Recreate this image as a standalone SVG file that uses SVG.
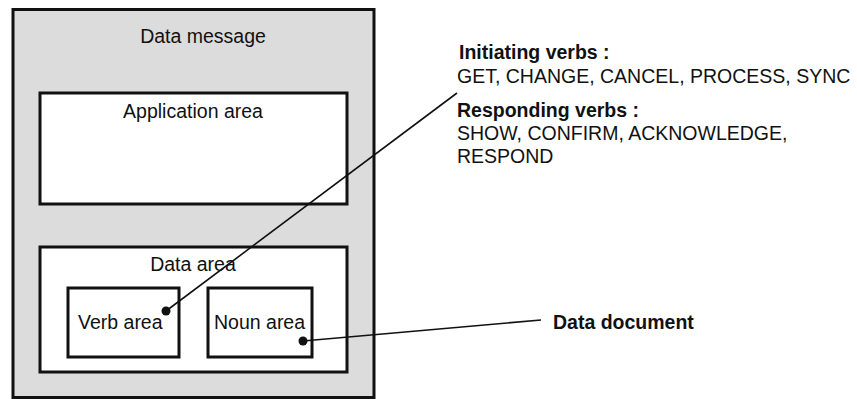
<svg xmlns="http://www.w3.org/2000/svg" width="857" height="399" viewBox="0 0 857 399">
<style>
text{font-family:"Liberation Sans",Arial,sans-serif;font-size:19.5px;fill:#111}
.b{font-weight:bold}
.box{fill:#fff;stroke:#111;stroke-width:3}
.ln{stroke:#111;stroke-width:1.6;fill:none}
</style>
<rect width="857" height="399" fill="#fff"/>
<g id="data-message">
<rect x="13" y="9.5" width="361" height="388" fill="#dcdcdc" stroke="#111" stroke-width="3"/>
<text x="203" y="43" text-anchor="middle">Data message</text>
</g>
<g id="application-area">
<rect class="box" x="40" y="93" width="307" height="111"/>
<text x="193" y="118" text-anchor="middle">Application area</text>
</g>
<g id="data-area">
<rect class="box" x="40" y="247" width="307" height="125"/>
<text x="193" y="271" text-anchor="middle">Data area</text>
</g>
<g id="verb-area">
<rect class="box" x="68" y="288" width="111" height="69"/>
<text x="78" y="329">Verb area</text>
</g>
<g id="noun-area">
<rect class="box" x="208" y="288" width="104" height="69"/>
<text x="214" y="329">Noun area</text>
</g>
<g id="verbs-note">
<text class="b" x="459" y="59">Initiating verbs :</text>
<text x="457" y="83">GET, CHANGE, CANCEL, PROCESS, SYNC</text>
<text class="b" x="457" y="117">Responding verbs :</text>
<text x="457" y="140">SHOW, CONFIRM, ACKNOWLEDGE,</text>
<text x="457" y="163">RESPOND</text>
</g>
<g id="data-document">
<text class="b" x="553" y="329">Data document</text>
</g>
<g id="connectors">
<line class="ln" x1="166" y1="311" x2="457" y2="93"/>
<circle cx="166" cy="311" r="4.5" fill="#111"/>
<line class="ln" x1="303" y1="341" x2="541" y2="320"/>
<circle cx="303" cy="341" r="4.5" fill="#111"/>
</g>
</svg>
